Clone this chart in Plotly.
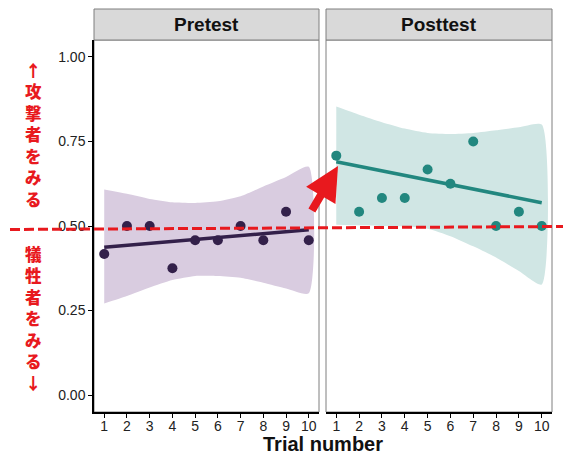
import plotly.graph_objects as go

W, H = 563, 454

trials = [1, 2, 3, 4, 5, 6, 7, 8, 9, 10]
tick_labels = ["1", "2", "3", "4", "5", "6", "7", "8", "9", "10"]

pre_points = [0.417, 0.500, 0.500, 0.375, 0.458, 0.458, 0.500, 0.458, 0.542, 0.458]
pre_fit_ends = [0.437, 0.489]
pre_ci_upper = [0.608, 0.595, 0.580, 0.570, 0.568, 0.573, 0.588, 0.617, 0.645, 0.675]
pre_ci_lower = [0.271, 0.293, 0.318, 0.340, 0.352, 0.352, 0.347, 0.332, 0.315, 0.301]

post_points = [0.708, 0.542, 0.583, 0.583, 0.667, 0.625, 0.750, 0.500, 0.542, 0.500]
post_fit_ends = [0.690, 0.569]
post_ci_upper = [0.853, 0.829, 0.807, 0.788, 0.775, 0.772, 0.775, 0.783, 0.792, 0.800]
post_ci_lower = [0.504, 0.502, 0.500, 0.499, 0.492, 0.470, 0.440, 0.407, 0.367, 0.327]

y_ticks = [0, 0.25, 0.5, 0.75, 1.0]
panels = ["Pretest", "Posttest"]
top_label = ["↑", "攻", "撃", "者", "を", "み", "る"]
bottom_label = ["犠", "牲", "者", "を", "み", "る", "↓"]

PRE_C = "#33204A"
PRE_F = "#D9CCE0"
POST_C = "#22877F"
POST_F = "#D0E6E4"
RED = "#E8191E"
FONT = "Liberation Sans, Arial, sans-serif"
CJK = "Noto Sans CJK JP"

fig = go.Figure()

def add_panel(xa, ya, pts, ends, up, lo, col, fcol):
    fig.add_trace(go.Scatter(
        x=trials + trials[::-1], y=up + lo[::-1], fill="toself",
        fillcolor=fcol, line=dict(width=0, shape="spline", smoothing=0.6),
        mode="lines", hoverinfo="skip", xaxis=xa, yaxis=ya, showlegend=False))
    fig.add_trace(go.Scatter(
        x=[trials[0], trials[-1]], y=ends, mode="lines",
        line=dict(color=col, width=3.5), xaxis=xa, yaxis=ya, showlegend=False))
    fig.add_trace(go.Scatter(
        x=trials, y=pts, mode="markers",
        marker=dict(color=col, size=10), xaxis=xa, yaxis=ya, showlegend=False))

add_panel("x", "y", pre_points, pre_fit_ends, pre_ci_upper, pre_ci_lower, PRE_C, PRE_F)
add_panel("x2", "y2", post_points, post_fit_ends, post_ci_upper, post_ci_lower, POST_C, POST_F)

L0, L1 = 94, 319
R0, R1 = 326, 552
T, B = 40, 412

def px(x):
    return x / W

def py(y):
    return 1 - y / H

xcommon = dict(range=[0.55, 10.45], tickvals=trials, ticktext=tick_labels,
               ticks="outside", ticklen=4, tickcolor="black", showgrid=False,
               zeroline=False, tickfont=dict(family=FONT, size=14, color="#222"),
               ticklabelstandoff=-4,
               showline=True, linecolor="black", linewidth=1.5)
ycommon = dict(range=[-0.05, 1.05], domain=[py(B), py(T)], showgrid=False,
               zeroline=False, tickvals=y_ticks)

fig.update_layout(
    width=W, height=H, margin=dict(l=0, r=0, t=0, b=0),
    paper_bgcolor="white", plot_bgcolor="white",
    xaxis=dict(domain=[px(L0), px(L1)], anchor="y", **xcommon),
    xaxis2=dict(domain=[px(R0), px(R1)], anchor="y2", **xcommon),
    yaxis=dict(anchor="x", ticks="outside", ticklen=4, tickcolor="black",
               tickformat=".2f", tickfont=dict(family=FONT, size=14, color="#222"),
               showline=True, linecolor="black", linewidth=1.5, **ycommon),
    yaxis2=dict(anchor="x2", showticklabels=False, showline=False, **ycommon),
)

shapes = []
annotations = []
for (a, b), name in zip([(L0, L1), (R0, R1)], panels):
    shapes.append(dict(type="rect", xref="paper", yref="paper",
                       x0=px(a), x1=px(b), y0=py(B), y1=py(T),
                       line=dict(color="#7F7F7F", width=1), layer="below"))
    shapes.append(dict(type="rect", xref="paper", yref="paper",
                       x0=px(a), x1=px(b), y0=py(T), y1=py(9),
                       fillcolor="#D9D9D9", line=dict(color="#7F7F7F", width=1)))
    annotations.append(dict(text=f"<b>{name}</b>", xref="paper", yref="paper",
                            x=px((a + b) / 2), y=py(25), showarrow=False,
                            font=dict(family=FONT, size=19, color="#111"),
                            xanchor="center", yanchor="middle"))

# dashed reference line across the figure
shapes.append(dict(type="line", xref="paper", yref="paper",
                   x0=px(10), y0=py(229.5), x1=1, y1=py(226.5),
                   line=dict(color=RED, width=3, dash="10px,4px"), layer="above"))

# red arrow
annotations.append(dict(text="", xref="paper", yref="paper",
                        x=px(338), y=py(166), axref="pixel", ayref="pixel",
                        ax=311 - 338, ay=212 - 166, showarrow=True, arrowhead=2,
                        arrowsize=0.85, arrowwidth=8, arrowcolor=RED, standoff=0))

# axis title
annotations.append(dict(text="<b>Trial number</b>", xref="paper", yref="paper",
                        x=px(323), y=py(444), showarrow=False,
                        font=dict(family=FONT, size=20, color="#111"),
                        xanchor="center", yanchor="middle"))

# vertical Japanese labels (one character per line)
for chars, yc in [(top_label, 134), (bottom_label, 318)]:
    annotations.append(dict(text="<br>".join(chars), xref="paper", yref="paper",
                            x=px(33), y=py(yc), showarrow=False, align="center",
                            font=dict(family=CJK, size=16.5, color=RED, weight=900),
                            xanchor="center", yanchor="middle"))

fig.update_layout(shapes=shapes, annotations=annotations)
fig.write_html("out.html", config={"displayModeBar": False},
               post_script="document.body.style.margin='0';document.body.style.padding='0';")
